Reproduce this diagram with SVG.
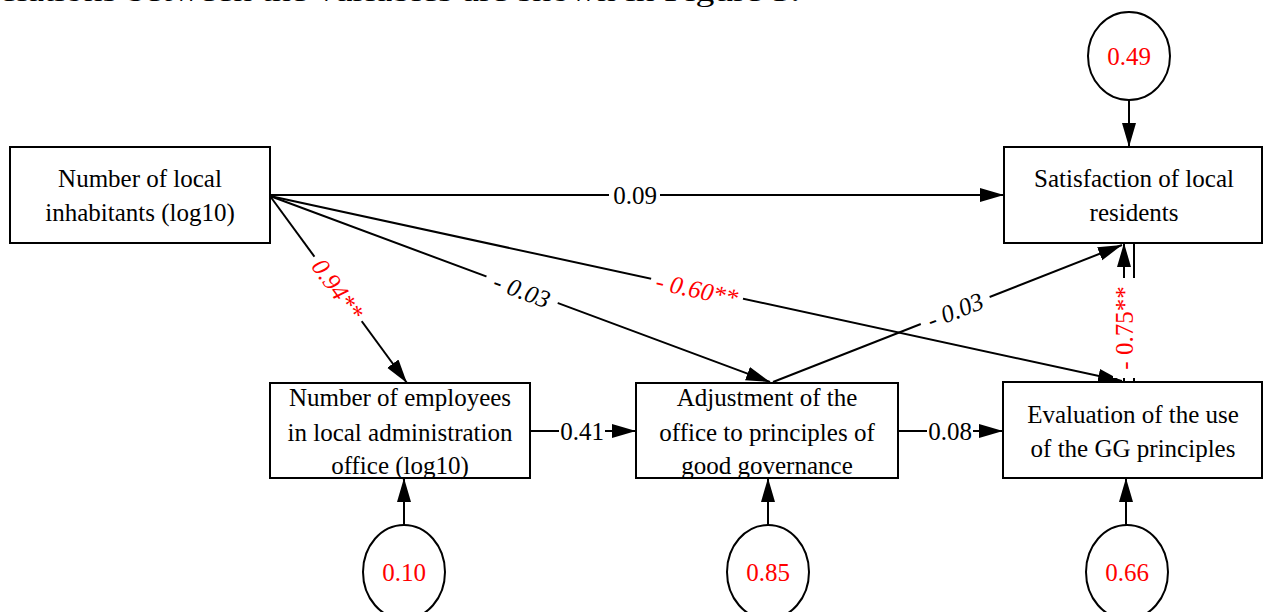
<svg xmlns="http://www.w3.org/2000/svg" width="1263" height="612" viewBox="0 0 1263 612">
<style>
  .box { fill: #fff; stroke: #000; stroke-width: 2; }
  .err { fill: #fff; stroke: #000; stroke-width: 2; }
  .t { font-family: "Liberation Serif", "Times New Roman", serif; font-size: 25px; fill: #000; text-anchor: middle; }
  .red { fill: #ff0000; }
  .it { font-style: italic; }
  .ln { stroke: #000; stroke-width: 2; fill: none; }
  .bg { fill: #fff; stroke: none; }
</style>
<defs>
  <marker id="ah" markerUnits="userSpaceOnUse" markerWidth="26" markerHeight="16" refX="24" refY="7" orient="auto">
    <path d="M0,0 L24,7 L0,14 Z" fill="#000"/>
  </marker>
</defs>
<rect width="1263" height="612" fill="#fff"/>
<text x="0" y="1" font-family="Liberation Serif, serif" font-size="28" textLength="800" lengthAdjust="spacingAndGlyphs">elations between the variables are shown in Figure 5.</text>

<g id="connectors">
  <line class="ln" x1="270" y1="195" x2="1004" y2="195" marker-end="url(#ah)"/>
  <line class="ln" x1="270" y1="196" x2="407" y2="383" marker-end="url(#ah)"/>
  <line class="ln" x1="270" y1="196" x2="770" y2="382" marker-end="url(#ah)"/>
  <line class="ln" x1="270" y1="196" x2="1122" y2="381" marker-end="url(#ah)"/>
  <line class="ln" x1="773" y1="382" x2="1122" y2="245" marker-end="url(#ah)"/>
  <line class="ln" x1="530" y1="431" x2="636" y2="431" marker-end="url(#ah)"/>
  <line class="ln" x1="898" y1="431" x2="1003" y2="431" marker-end="url(#ah)"/>
  <line class="ln" x1="1124" y1="382" x2="1124" y2="243" marker-end="url(#ah)"/>
  <line class="ln" x1="1134" y1="243" x2="1134" y2="382"/>
  <line class="ln" x1="1129" y1="100" x2="1129" y2="147" marker-end="url(#ah)"/>
  <line class="ln" x1="404" y1="525" x2="404" y2="478" marker-end="url(#ah)"/>
  <line class="ln" x1="768" y1="525" x2="768" y2="478" marker-end="url(#ah)"/>
  <line class="ln" x1="1126" y1="525" x2="1126" y2="478" marker-end="url(#ah)"/>

  <rect class="bg" x="609" y="182" width="51" height="26"/>
  <text class="t" x="635" y="204">0.09</text>

  <g transform="translate(338,289) rotate(53.8)">
    <rect class="bg" x="-40" y="-12" width="80" height="24"/>
    <text class="t it red" x="0" y="9">0.94**</text>
  </g>
  <g transform="translate(522,290) rotate(20.4)">
    <rect class="bg" x="-38" y="-12" width="76" height="24"/>
    <text class="t it" x="0" y="9">- 0.03</text>
  </g>
  <g transform="translate(697,289) rotate(12.3)">
    <rect class="bg" x="-47" y="-12" width="94" height="24"/>
    <text class="t it red" x="0" y="9">- 0.60**</text>
  </g>
  <g transform="translate(955,310) rotate(-21.4)">
    <rect class="bg" x="-37" y="-12" width="74" height="24"/>
    <text class="t it" x="0" y="9">- 0.03</text>
  </g>
  <g transform="translate(1125,328) rotate(-90)">
    <rect class="bg" x="-50" y="-12" width="100" height="22"/>
    <text class="t red" x="0" y="8">- 0.75**</text>
  </g>
  <rect class="bg" x="559" y="419" width="46" height="24"/>
  <text class="t" x="582" y="440">0.41</text>
  <rect class="bg" x="927" y="419" width="46" height="24"/>
  <text class="t" x="950" y="440">0.08</text>
</g>

<g id="n-inhabitants">
  <rect class="box" x="10" y="147" width="260" height="96"/>
  <text class="t" x="140" y="187">Number of local</text>
  <text class="t" x="140" y="221">inhabitants (log10)</text>
</g>
<g id="n-satisfaction">
  <rect class="box" x="1004" y="147" width="258" height="96"/>
  <text class="t" x="1134" y="187">Satisfaction of local</text>
  <text class="t" x="1134" y="221">residents</text>
</g>
<g id="n-employees">
  <rect class="box" x="270" y="383" width="260" height="95"/>
  <text class="t" x="400" y="406">Number of employees</text>
  <text class="t" x="400" y="441">in local administration</text>
  <text class="t" x="400" y="474">office (log10)</text>
</g>
<g id="n-adjustment">
  <rect class="box" x="636" y="383" width="262" height="95"/>
  <text class="t" x="767" y="406">Adjustment of the</text>
  <text class="t" x="767" y="441">office to principles of</text>
  <text class="t" x="767" y="474">good governance</text>
</g>
<g id="n-evaluation">
  <rect class="box" x="1003" y="382" width="259" height="96"/>
  <text class="t" x="1133" y="423">Evaluation of the use</text>
  <text class="t" x="1133" y="457">of the GG principles</text>
</g>
<g id="e-satisfaction">
  <ellipse class="err" cx="1129" cy="56" rx="41" ry="44"/>
  <text class="t red" x="1129" y="65">0.49</text>
</g>
<g id="e-employees">
  <ellipse class="err" cx="404" cy="572" rx="41" ry="47"/>
  <text class="t red" x="404" y="581">0.10</text>
</g>
<g id="e-adjustment">
  <ellipse class="err" cx="768" cy="572" rx="41" ry="47"/>
  <text class="t red" x="768" y="581">0.85</text>
</g>
<g id="e-evaluation">
  <ellipse class="err" cx="1127" cy="572" rx="41" ry="47"/>
  <text class="t red" x="1127" y="581">0.66</text>
</g>
</svg>
